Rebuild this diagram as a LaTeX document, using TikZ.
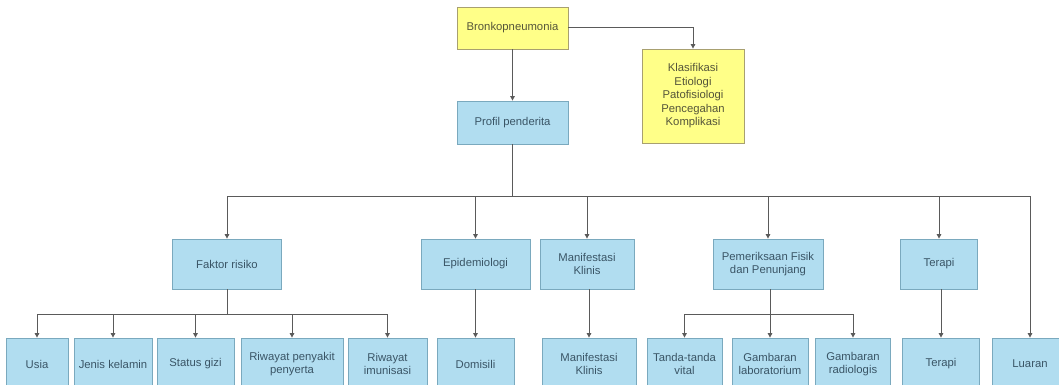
\documentclass[tikz,border=0pt]{standalone}
\usepackage{fontspec}
\setmainfont{Liberation Sans}
\usetikzlibrary{arrows.meta}
\definecolor{yfill}{HTML}{FFFF88}
\definecolor{ydraw}{HTML}{A8A070}
\definecolor{bfill}{HTML}{B1DDF0}
\definecolor{bdraw}{HTML}{7AA9BE}
\definecolor{ytext}{HTML}{55553A}
\definecolor{btext}{HTML}{3A5566}
\definecolor{conn}{HTML}{5A5A5A}
\tikzset{
  box/.style={draw, line width=0.8pt, inner sep=1pt, align=center,
    font=\fontsize{11.3}{13.5}\selectfont, anchor=center},
  ybox/.style={box, fill=yfill, draw=ydraw, text=ytext},
  bbox/.style={box, fill=bfill, draw=bdraw, text=btext},
  lnk/.style={draw=conn, line width=1pt},
  arr/.style={lnk, -{Triangle[length=4.5pt,width=4.5pt]}},
}
\begin{document}
\begin{tikzpicture}[x=1pt,y=-1pt]
\useasboundingbox (0,0) rectangle (1059,385);
\clip (0,0) rectangle (1059,385);
% top
\node[ybox, minimum width=111pt, minimum height=42pt] (bronko) at (512.5,28) {Bronkopneumonia};
\node[ybox, minimum width=102pt, minimum height=94pt] (klas) at (693,96) {Klasifikasi\\Etiologi\\Patofisiologi\\Pencegahan\\Komplikasi};
\node[bbox, minimum width=111pt, minimum height=43pt] (profil) at (512.5,122.5) {Profil penderita};
% middle row
\tikzset{mid/.style={bbox, minimum height=50pt}}
\node[mid, minimum width=109pt] (faktor) at (227,264) {Faktor risiko};
\node[mid, minimum width=109pt] (epid) at (475.5,264) {Epidemiologi};
\node[mid, minimum width=94pt] (manif) at (587,264) {Manifestasi\\Klinis};
\node[mid, minimum width=110pt] (pem) at (768,264) {Pemeriksaan Fisik\\dan Penunjang};
\node[mid, minimum width=77pt] (terapi) at (939,264) {Terapi};
% bottom row
\tikzset{low/.style={bbox, minimum height=52pt}}
\node[low, minimum width=62pt] (usia) at (37,364) {Usia};
\node[low, minimum width=78pt] (jenis) at (113,364) {Jenis kelamin};
\node[low, minimum width=77pt] (gizi) at (195.5,364) {Status gizi};
\node[low, minimum width=102pt] (rpp) at (292,364) {Riwayat penyakit\\penyerta};
\node[low, minimum width=79pt] (rim) at (387.5,364) {Riwayat\\imunisasi};
\node[low, minimum width=77pt] (domisili) at (475.5,364) {Domisili};
\node[low, minimum width=94pt] (manif2) at (589,364) {Manifestasi\\Klinis};
\node[low, minimum width=75pt] (ttv) at (684.5,364) {Tanda-tanda\\vital};
\node[low, minimum width=76pt] (lab) at (770,364) {Gambaran\\laboratorium};
\node[low, minimum width=75pt] (rad) at (853,364) {Gambaran\\radiologis};
\node[low, minimum width=77pt] (terapi2) at (941,364) {Terapi};
\node[low, minimum width=76pt] (luaran) at (1030,364) {Luaran};
% connectors
\coordinate (bus) at (0,196);
\coordinate (fbus) at (0,314);
\draw[arr] (bronko) -- (profil);
\draw[arr] (bronko.east) -| (klas.north);
\draw[lnk] (profil.south) -- (profil.south |- bus);
\draw[lnk] (faktor.north |- bus) -- (luaran.north |- bus);
\foreach \n in {faktor,epid,manif,pem,terapi}
  \draw[arr] (\n.north |- bus) -- (\n.north);
\draw[arr] (luaran.north |- bus) -- (luaran.north);
\draw[lnk] (faktor.south) -- (faktor.south |- fbus);
\draw[lnk] (usia.north |- fbus) -- (rim.north |- fbus);
\foreach \n in {usia,jenis,gizi,rpp,rim}
  \draw[arr] (\n.north |- fbus) -- (\n.north);
\draw[arr] (epid) -- (domisili);
\draw[arr] (manif2.north |- manif.south) -- (manif2.north);
\draw[lnk] (lab.north |- pem.south) -- (lab.north |- fbus);
\draw[lnk] (ttv.north |- fbus) -- (rad.north |- fbus);
\foreach \n in {ttv,lab,rad}
  \draw[arr] (\n.north |- fbus) -- (\n.north);
\draw[arr] (terapi2.north |- terapi.south) -- (terapi2.north);
\end{tikzpicture}
\end{document}
